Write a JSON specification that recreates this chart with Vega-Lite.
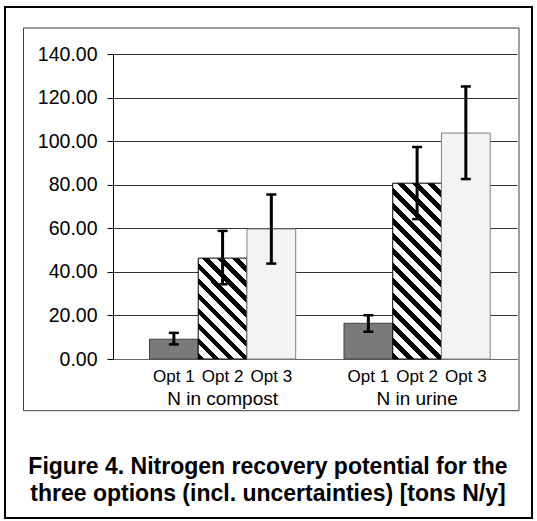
{
  "$schema": "https://vega.github.io/schema/vega-lite/v6.json",
  "width": 404,
  "height": 305,
  "autosize": {"type": "none"},
  "padding": {"left": 113, "top": 54, "right": 20, "bottom": 162},
  "background": "white",
  "config": {"view": {"stroke": null}, "font": "Liberation Sans"},
  "datasets": {
    "bars": [
      {"group": "N in compost", "option": "Opt 1", "value": 9.1, "lo": 6.7, "hi": 12.0},
      {"group": "N in compost", "option": "Opt 2", "value": 46.3, "lo": 34.3, "hi": 58.8},
      {"group": "N in compost", "option": "Opt 3", "value": 59.7, "lo": 43.8, "hi": 75.5},
      {"group": "N in urine", "option": "Opt 1", "value": 16.4, "lo": 12.5, "hi": 20.1},
      {"group": "N in urine", "option": "Opt 2", "value": 80.7, "lo": 64.2, "hi": 97.3},
      {"group": "N in urine", "option": "Opt 3", "value": 103.7, "lo": 82.6, "hi": 125.1}
    ],
    "groups": [
      {"group": "N in compost"},
      {"group": "N in urine"}
    ],
    "caption": [
      {"text": "Figure 4. Nitrogen recovery potential for the\nthree options (incl. uncertainties) [tons N/y]"}
    ],
    "frame": [{"f": 1}]
  },
  "layer": [
    {
      "data": {"name": "bars"},
      "mark": {"type": "bar", "strokeWidth": 1},
      "encoding": {
        "x": {
          "field": "group", "type": "nominal",
          "scale": {"type": "band", "domain": ["N in compost", "N in urine"], "paddingInner": 0.2483, "paddingOuter": 0.1627, "align": 0.5766},
          "axis": {"title": null, "ticks": false, "labels": false, "domainColor": "#666", "domainWidth": 1, "grid": false}
        },
        "xOffset": {
          "field": "option", "type": "nominal",
          "scale": {"type": "band", "domain": ["Opt 1", "Opt 2", "Opt 3"], "paddingInner": 0, "paddingOuter": 0}
        },
        "y": {
          "field": "value", "type": "quantitative",
          "scale": {"domain": [0, 140], "nice": false, "zero": false},
          "axis": {"title": null, "values": [0, 20, 40, 60, 80, 100, 120, 140], "format": ".2f", "grid": true, "gridColor": "#333", "gridWidth": 1, "domainColor": "#000", "tickColor": "#000", "tickSize": 6, "labelFontSize": 19.5, "labelColor": "#000", "labelPadding": 10, "labelFont": "Liberation Sans"}
        },
        "fill": {
          "condition": [
            {"test": "datum.option === 'Opt 1'", "value": "#7a7a7a"},
            {"test": "datum.option === 'Opt 3'", "value": "#f3f3f3"},
            {"test": "datum.group === 'N in compost'", "value": {
              "gradient": "linear", "x1": 0, "y1": 1, "x2": 0.5813, "y2": -0.2024,
              "stops": [
                {"offset": 0, "color": "#000"}, {"offset": 0.045, "color": "#000"}, {"offset": 0.045, "color": "#fff"}, {"offset": 0.1, "color": "#fff"},
                {"offset": 0.1, "color": "#000"}, {"offset": 0.145, "color": "#000"}, {"offset": 0.145, "color": "#fff"}, {"offset": 0.2, "color": "#fff"},
                {"offset": 0.2, "color": "#000"}, {"offset": 0.245, "color": "#000"}, {"offset": 0.245, "color": "#fff"}, {"offset": 0.3, "color": "#fff"},
                {"offset": 0.3, "color": "#000"}, {"offset": 0.345, "color": "#000"}, {"offset": 0.345, "color": "#fff"}, {"offset": 0.4, "color": "#fff"},
                {"offset": 0.4, "color": "#000"}, {"offset": 0.445, "color": "#000"}, {"offset": 0.445, "color": "#fff"}, {"offset": 0.5, "color": "#fff"},
                {"offset": 0.5, "color": "#000"}, {"offset": 0.545, "color": "#000"}, {"offset": 0.545, "color": "#fff"}, {"offset": 0.6, "color": "#fff"},
                {"offset": 0.6, "color": "#000"}, {"offset": 0.645, "color": "#000"}, {"offset": 0.645, "color": "#fff"}, {"offset": 0.7, "color": "#fff"},
                {"offset": 0.7, "color": "#000"}, {"offset": 0.745, "color": "#000"}, {"offset": 0.745, "color": "#fff"}, {"offset": 0.8, "color": "#fff"},
                {"offset": 0.8, "color": "#000"}, {"offset": 0.845, "color": "#000"}, {"offset": 0.845, "color": "#fff"}, {"offset": 0.9, "color": "#fff"},
                {"offset": 0.9, "color": "#000"}, {"offset": 0.945, "color": "#000"}, {"offset": 0.945, "color": "#fff"}, {"offset": 1, "color": "#fff"}
              ]
            }}
          ],
          "value": {
            "gradient": "linear", "x1": 0, "y1": 1, "x2": 0.3292, "y2": -0.1862,
            "stops": [
              {"offset": 0, "color": "#000"}, {"offset": 0.03, "color": "#000"}, {"offset": 0.03, "color": "#fff"}, {"offset": 0.0667, "color": "#fff"},
              {"offset": 0.0667, "color": "#000"}, {"offset": 0.0967, "color": "#000"}, {"offset": 0.0967, "color": "#fff"}, {"offset": 0.1333, "color": "#fff"},
              {"offset": 0.1333, "color": "#000"}, {"offset": 0.1633, "color": "#000"}, {"offset": 0.1633, "color": "#fff"}, {"offset": 0.2, "color": "#fff"},
              {"offset": 0.2, "color": "#000"}, {"offset": 0.23, "color": "#000"}, {"offset": 0.23, "color": "#fff"}, {"offset": 0.2667, "color": "#fff"},
              {"offset": 0.2667, "color": "#000"}, {"offset": 0.2967, "color": "#000"}, {"offset": 0.2967, "color": "#fff"}, {"offset": 0.3333, "color": "#fff"},
              {"offset": 0.3333, "color": "#000"}, {"offset": 0.3633, "color": "#000"}, {"offset": 0.3633, "color": "#fff"}, {"offset": 0.4, "color": "#fff"},
              {"offset": 0.4, "color": "#000"}, {"offset": 0.43, "color": "#000"}, {"offset": 0.43, "color": "#fff"}, {"offset": 0.4667, "color": "#fff"},
              {"offset": 0.4667, "color": "#000"}, {"offset": 0.4967, "color": "#000"}, {"offset": 0.4967, "color": "#fff"}, {"offset": 0.5333, "color": "#fff"},
              {"offset": 0.5333, "color": "#000"}, {"offset": 0.5633, "color": "#000"}, {"offset": 0.5633, "color": "#fff"}, {"offset": 0.6, "color": "#fff"},
              {"offset": 0.6, "color": "#000"}, {"offset": 0.63, "color": "#000"}, {"offset": 0.63, "color": "#fff"}, {"offset": 0.6667, "color": "#fff"},
              {"offset": 0.6667, "color": "#000"}, {"offset": 0.6967, "color": "#000"}, {"offset": 0.6967, "color": "#fff"}, {"offset": 0.7333, "color": "#fff"},
              {"offset": 0.7333, "color": "#000"}, {"offset": 0.7633, "color": "#000"}, {"offset": 0.7633, "color": "#fff"}, {"offset": 0.8, "color": "#fff"},
              {"offset": 0.8, "color": "#000"}, {"offset": 0.83, "color": "#000"}, {"offset": 0.83, "color": "#fff"}, {"offset": 0.8667, "color": "#fff"},
              {"offset": 0.8667, "color": "#000"}, {"offset": 0.8967, "color": "#000"}, {"offset": 0.8967, "color": "#fff"}, {"offset": 0.9333, "color": "#fff"},
              {"offset": 0.9333, "color": "#000"}, {"offset": 0.9633, "color": "#000"}, {"offset": 0.9633, "color": "#fff"}, {"offset": 1, "color": "#fff"}
            ]
          }
        },
        "stroke": {
          "condition": [
            {"test": "datum.option === 'Opt 1'", "value": "#404040"},
            {"test": "datum.option === 'Opt 3'", "value": "#808080"}
          ],
          "value": "#000"
        }
      }
    },
    {
      "data": {"name": "frame"},
      "mark": {"type": "rect", "filled": false, "stroke": "#000", "strokeWidth": 2},
      "encoding": {
        "x": {"datum": "N in compost", "type": "nominal", "bandPosition": -0.9884, "scale": {"type": "band"}},
        "x2": {"datum": "N in urine", "bandPosition": 1.286},
        "y": {"datum": 161.57, "type": "quantitative", "scale": {"domain": [0, 140], "nice": false, "zero": false}},
        "y2": {"datum": -72.98}
      }
    },
    {
      "data": {"name": "frame"},
      "mark": {"type": "rect", "filled": false, "stroke": "#404040", "strokeWidth": 1},
      "encoding": {
        "x": {"datum": "N in compost", "type": "nominal", "bandPosition": -0.8618, "scale": {"type": "band"}},
        "x2": {"datum": "N in urine", "bandPosition": 1.197},
        "y": {"datum": 151.93, "type": "quantitative", "scale": {"domain": [0, 140], "nice": false, "zero": false}},
        "y2": {"datum": -23.73}
      }
    },
    {
      "data": {"name": "bars"},
      "mark": {"type": "rule", "strokeWidth": 3, "color": "#000"},
      "encoding": {
        "x": {"field": "group", "type": "nominal", "scale": {"type": "band"}},
        "xOffset": {"field": "option", "type": "nominal"},
        "y": {"field": "lo", "type": "quantitative", "scale": {"domain": [0, 140], "nice": false, "zero": false}, "axis": {"title": null}},
        "y2": {"field": "hi"}
      }
    },
    {
      "data": {"name": "bars"},
      "mark": {"type": "tick", "orient": "horizontal", "size": 10, "thickness": 2.5, "color": "#000", "opacity": 1},
      "encoding": {
        "x": {"field": "group", "type": "nominal", "scale": {"type": "band"}},
        "xOffset": {"field": "option", "type": "nominal"},
        "y": {"field": "lo", "type": "quantitative", "scale": {"domain": [0, 140], "nice": false, "zero": false}, "axis": {"title": null}}
      }
    },
    {
      "data": {"name": "bars"},
      "mark": {"type": "tick", "orient": "horizontal", "size": 10, "thickness": 2.5, "color": "#000", "opacity": 1},
      "encoding": {
        "x": {"field": "group", "type": "nominal", "scale": {"type": "band"}},
        "xOffset": {"field": "option", "type": "nominal"},
        "y": {"field": "hi", "type": "quantitative", "scale": {"domain": [0, 140], "nice": false, "zero": false}, "axis": {"title": null}}
      }
    },
    {
      "data": {"name": "bars"},
      "mark": {"type": "text", "fontSize": 17, "font": "Liberation Sans", "color": "#000", "align": "center", "baseline": "alphabetic"},
      "encoding": {
        "x": {"field": "group", "type": "nominal", "scale": {"type": "band"}},
        "xOffset": {"field": "option", "type": "nominal"},
        "y": {"datum": -10.33, "type": "quantitative", "scale": {"domain": [0, 140], "nice": false, "zero": false}},
        "text": {"field": "option"}
      }
    },
    {
      "data": {"name": "groups"},
      "mark": {"type": "text", "fontSize": 19, "font": "Liberation Sans", "color": "#000", "align": "center", "baseline": "alphabetic"},
      "encoding": {
        "x": {"field": "group", "type": "nominal", "scale": {"type": "band"}, "bandPosition": 0.5},
        "y": {"datum": -20.9, "type": "quantitative", "scale": {"domain": [0, 140], "nice": false, "zero": false}},
        "text": {"field": "group"}
      }
    },
    {
      "data": {"name": "caption"},
      "mark": {"type": "text", "fontSize": 23, "fontWeight": "bold", "font": "Liberation Sans", "color": "#000", "align": "center", "baseline": "alphabetic", "lineBreak": "\n", "lineHeight": 27},
      "encoding": {
        "x": {"datum": "N in compost", "type": "nominal", "bandPosition": 0.8105, "scale": {"type": "band"}},
        "y": {"datum": -52.79, "type": "quantitative", "scale": {"domain": [0, 140], "nice": false, "zero": false}},
        "text": {"field": "text"}
      }
    }
  ]
}
